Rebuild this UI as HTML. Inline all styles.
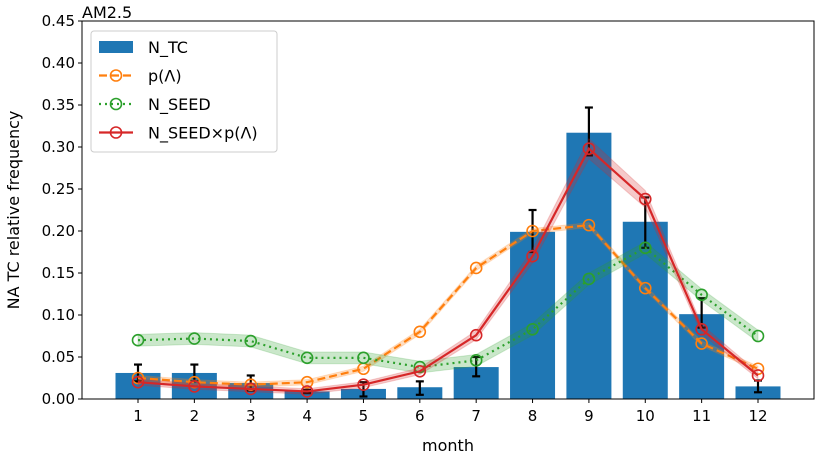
<!DOCTYPE html>
<html><head><meta charset="utf-8"><style>
body{margin:0;background:#fff;font-family:"Liberation Sans","DejaVu Sans",sans-serif}
svg text{font-family:"DejaVu Sans","Liberation Sans",sans-serif}
</style></head><body>
<svg id="c" width="819" height="460" xmlns="http://www.w3.org/2000/svg"></svg>
<script>
const months=[1,2,3,4,5,6,7,8,9,10,11,12];
const barVals=[0.031,0.031,0.019,0.009,0.012,0.014,0.038,0.199,0.317,0.211,0.101,0.015];
const errLo=[0.021,0.021,0.010,0.007,0.003,0.005,0.027,0.175,0.290,0.180,0.085,0.008];
const errHi=[0.041,0.041,0.028,0.011,0.020,0.021,0.050,0.225,0.347,0.240,0.120,0.022];
const pVals=[0.025,0.020,0.017,0.020,0.036,0.080,0.156,0.200,0.207,0.132,0.066,0.036];
const seedVals=[0.070,0.072,0.069,0.049,0.049,0.038,0.046,0.083,0.143,0.180,0.124,0.075];
const prodVals=[0.020,0.015,0.012,0.009,0.017,0.033,0.076,0.170,0.298,0.238,0.083,0.028];
const yTicks=[0,0.05,0.10,0.15,0.20,0.25,0.30,0.35,0.40,0.45];
const L=82,R=814,T=21,B=399;
const X=m=>138+(m-1)*(620/11);
const Y=v=>B-(v/0.45)*(B-T);
const svg=document.getElementById('c');const NS='http://www.w3.org/2000/svg';
function el(t,a,p){const e=document.createElementNS(NS,t);for(const k in a)e.setAttribute(k,a[k]);(p||svg).appendChild(e);return e;}
// bars
months.forEach((m,i)=>{const b=el('rect',{x:X(m)-22.5,y:Y(barVals[i]),width:45,height:B-Y(barVals[i]),fill:'#1f77b4'});

});
months.forEach((m,i)=>{const g=el('g',{stroke:'#000','stroke-width':2.2});


el('line',{x1:X(m),x2:X(m),y1:Y(errLo[i]),y2:Y(errHi[i])},g);
el('line',{x1:X(m)-4,x2:X(m)+4,y1:Y(errLo[i]),y2:Y(errLo[i])},g);
el('line',{x1:X(m)-4,x2:X(m)+4,y1:Y(errHi[i]),y2:Y(errHi[i])},g);});
function series(vals,color,dash,band,name){
 const g=el('g',{});
 
 
 const up=months.map((m,i)=>X(m)+','+Y(vals[i]+band*(name==='series-n-seed-p'?(0.3+vals[i]*3):1)));
 const dn=months.map((m,i)=>X(m)+','+Y(Math.max(0,vals[i]-band*(name==='series-n-seed-p'?(0.3+vals[i]*3):1)))).reverse();
 el('polygon',{points:up.concat(dn).join(' '),fill:color,'fill-opacity':0.25,stroke:color,'stroke-opacity':0.2},g);
 el('polyline',{points:months.map((m,i)=>X(m)+','+Y(vals[i])).join(' '),fill:'none',stroke:color,'stroke-width':2.2,'stroke-dasharray':dash},g);
 months.forEach((m,i)=>el('circle',{cx:X(m),cy:Y(vals[i]),r:5.5,fill:'none',stroke:color,'stroke-width':1.6},g));
}
series(pVals,'#ff7f0e','8,4',0.003,'series-p-lambda');
series(seedVals,'#2ca02c','2,4',0.007,'series-n-seed');
series(prodVals,'#d62728','',0.01,'series-n-seed-p');
// axes
const ax=el('rect',{x:L,y:T,width:R-L,height:B-T,fill:'none',stroke:'#000','stroke-width':1});

yTicks.forEach(v=>{el('line',{x1:L-4,x2:L,y1:Y(v),y2:Y(v),stroke:'#000'});
const t=el('text',{x:L-7,y:Y(v)+5,'text-anchor':'end','font-size':15});t.textContent=v.toFixed(2);
});
months.forEach(m=>{el('line',{x1:X(m),x2:X(m),y1:B,y2:B+4,stroke:'#000'});
const t=el('text',{x:X(m),y:B+22,'text-anchor':'middle','font-size':15});t.textContent=m;
});
let t=el('text',{x:448,y:451,'text-anchor':'middle','font-size':16});t.textContent='month';

t=el('text',{x:19,y:210,'text-anchor':'middle','font-size':16,transform:'rotate(-90 19 210)'});t.textContent='NA TC relative frequency';

t=el('text',{x:82,y:18,'font-size':16});t.textContent='AM2.5';

// legend
const lg=el('g',{});
el('rect',{x:91,y:31,width:186,height:121,rx:3,fill:'#fff','fill-opacity':0.85,stroke:'#ccc'},lg);
const items=[['N_TC','bar'],['p(Λ)','#ff7f0e','8,4'],['N_SEED','#2ca02c','2,4'],['N_SEED×p(Λ)','#d62728','']];
items.forEach((it,i)=>{const y=47+i*28.5;
 if(it[1]==='bar')el('rect',{x:99,y:y-6,width:34,height:12,fill:'#1f77b4'},lg);
 else{el('line',{x1:99,x2:133,y1:y,y2:y,stroke:it[1],'stroke-width':2.2,'stroke-dasharray':it[2]},lg);el('circle',{cx:116,cy:y,r:5.5,fill:'none',stroke:it[1],'stroke-width':1.6},lg);}
 const tx=el('text',{x:148,y:y+6,'font-size':16},lg);tx.textContent=it[0];
 });
</script>
</body></html>
